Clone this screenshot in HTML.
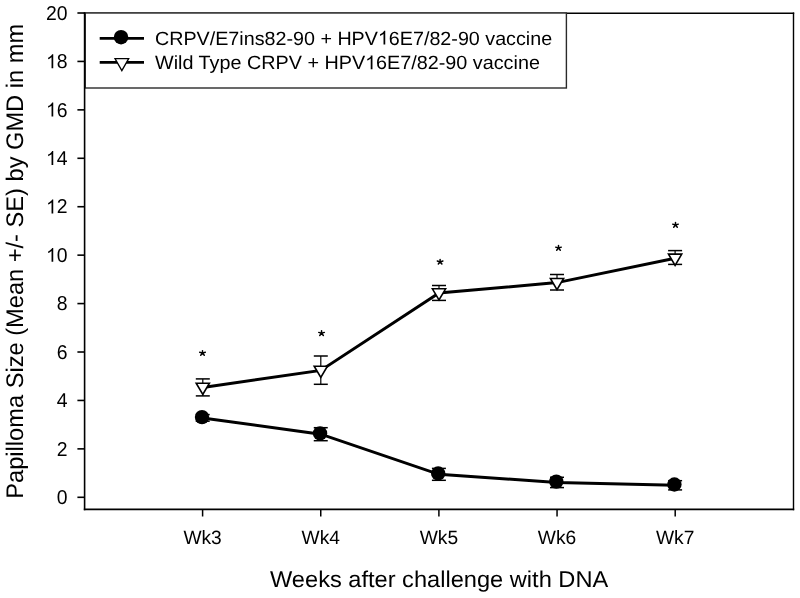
<!DOCTYPE html>
<html><head><meta charset="utf-8"><style>
html,body{margin:0;padding:0;background:#fff;width:800px;height:598px;overflow:hidden}
svg{display:block;will-change:transform}
text{font-family:"Liberation Sans", sans-serif;fill:#000;text-rendering:geometricPrecision}
</style></head><body>
<svg width="800" height="598" viewBox="0 0 800 598">
<line x1="83.8" y1="13.2" x2="794.2" y2="13.2" stroke="#000" stroke-width="1.4"/>
<line x1="793.5" y1="12.5" x2="793.5" y2="510.2" stroke="#000" stroke-width="1.4"/>
<line x1="83.8" y1="509.4" x2="794.2" y2="509.4" stroke="#000" stroke-width="1.6"/>
<rect x="85.2" y="13" width="481.2" height="75" fill="#fff" stroke="#2a2a2a" stroke-width="1.4"/>
<line x1="84.6" y1="12.3" x2="84.6" y2="510.2" stroke="#000" stroke-width="1.6"/>
<line x1="77.4" y1="497.30" x2="84.6" y2="497.30" stroke="#000" stroke-width="1.6"/>
<text transform="translate(67.6,504.00) scale(1,1.035)" text-anchor="end" font-size="19.4">0</text>
<line x1="77.4" y1="448.87" x2="84.6" y2="448.87" stroke="#000" stroke-width="1.6"/>
<text transform="translate(67.6,455.57) scale(1,1.035)" text-anchor="end" font-size="19.4">2</text>
<line x1="77.4" y1="400.44" x2="84.6" y2="400.44" stroke="#000" stroke-width="1.6"/>
<text transform="translate(67.6,407.14) scale(1,1.035)" text-anchor="end" font-size="19.4">4</text>
<line x1="77.4" y1="352.01" x2="84.6" y2="352.01" stroke="#000" stroke-width="1.6"/>
<text transform="translate(67.6,358.71) scale(1,1.035)" text-anchor="end" font-size="19.4">6</text>
<line x1="77.4" y1="303.58" x2="84.6" y2="303.58" stroke="#000" stroke-width="1.6"/>
<text transform="translate(67.6,310.28) scale(1,1.035)" text-anchor="end" font-size="19.4">8</text>
<line x1="77.4" y1="255.15" x2="84.6" y2="255.15" stroke="#000" stroke-width="1.6"/>
<path transform="translate(46.02,261.85) scale(0.00947,-0.00947)" d="M763,0H583V1147Q518,1085 412,1023Q306,961 223,930V1104Q374,1175 487,1276Q600,1377 647,1472H763Z"/>
<text transform="translate(67.6,261.85) scale(1,1.035)" text-anchor="end" font-size="19.4">0</text>
<line x1="77.4" y1="206.72" x2="84.6" y2="206.72" stroke="#000" stroke-width="1.6"/>
<path transform="translate(46.02,213.42) scale(0.00947,-0.00947)" d="M763,0H583V1147Q518,1085 412,1023Q306,961 223,930V1104Q374,1175 487,1276Q600,1377 647,1472H763Z"/>
<text transform="translate(67.6,213.42) scale(1,1.035)" text-anchor="end" font-size="19.4">2</text>
<line x1="77.4" y1="158.29" x2="84.6" y2="158.29" stroke="#000" stroke-width="1.6"/>
<path transform="translate(46.02,164.99) scale(0.00947,-0.00947)" d="M763,0H583V1147Q518,1085 412,1023Q306,961 223,930V1104Q374,1175 487,1276Q600,1377 647,1472H763Z"/>
<text transform="translate(67.6,164.99) scale(1,1.035)" text-anchor="end" font-size="19.4">4</text>
<line x1="77.4" y1="109.86" x2="84.6" y2="109.86" stroke="#000" stroke-width="1.6"/>
<path transform="translate(46.02,116.56) scale(0.00947,-0.00947)" d="M763,0H583V1147Q518,1085 412,1023Q306,961 223,930V1104Q374,1175 487,1276Q600,1377 647,1472H763Z"/>
<text transform="translate(67.6,116.56) scale(1,1.035)" text-anchor="end" font-size="19.4">6</text>
<line x1="77.4" y1="61.43" x2="84.6" y2="61.43" stroke="#000" stroke-width="1.6"/>
<path transform="translate(46.02,68.13) scale(0.00947,-0.00947)" d="M763,0H583V1147Q518,1085 412,1023Q306,961 223,930V1104Q374,1175 487,1276Q600,1377 647,1472H763Z"/>
<text transform="translate(67.6,68.13) scale(1,1.035)" text-anchor="end" font-size="19.4">8</text>
<line x1="77.4" y1="13.00" x2="84.6" y2="13.00" stroke="#000" stroke-width="1.6"/>
<text transform="translate(67.6,19.70) scale(1,1.035)" text-anchor="end" font-size="19.4">20</text>
<line x1="202.6" y1="509" x2="202.6" y2="516.5" stroke="#000" stroke-width="1.5"/>
<text x="183.40" y="543.8" font-size="19.2" textLength="38.4" lengthAdjust="spacingAndGlyphs">Wk3</text>
<line x1="320.75" y1="509" x2="320.75" y2="516.5" stroke="#000" stroke-width="1.5"/>
<text x="301.55" y="543.8" font-size="19.2" textLength="38.4" lengthAdjust="spacingAndGlyphs">Wk4</text>
<line x1="438.9" y1="509" x2="438.9" y2="516.5" stroke="#000" stroke-width="1.5"/>
<text x="419.70" y="543.8" font-size="19.2" textLength="38.4" lengthAdjust="spacingAndGlyphs">Wk5</text>
<line x1="557.05" y1="509" x2="557.05" y2="516.5" stroke="#000" stroke-width="1.5"/>
<text x="537.85" y="543.8" font-size="19.2" textLength="38.4" lengthAdjust="spacingAndGlyphs">Wk6</text>
<line x1="675.2" y1="509" x2="675.2" y2="516.5" stroke="#000" stroke-width="1.5"/>
<text x="656.00" y="543.8" font-size="19.2" textLength="38.4" lengthAdjust="spacingAndGlyphs">Wk7</text>
<text x="270" y="586.9" font-size="22.9" textLength="338.2" lengthAdjust="spacingAndGlyphs">Weeks after challenge with DNA</text>
<text transform="translate(22.9,498.7) rotate(-90)" x="0" y="0" font-size="24" textLength="474.8" lengthAdjust="spacingAndGlyphs">Papilloma Size (Mean +/- SE) by GMD in mm</text>
<polyline points="202.80,387.40 320.80,370.40 439.00,292.95 557.00,282.60 675.10,258.30" fill="none" stroke="#000" stroke-width="3"/>
<polyline points="202.70,417.90 320.75,434.20 438.90,474.30 557.00,482.40 675.10,485.30" fill="none" stroke="#000" stroke-width="3"/>
<line x1="202.80" y1="378.90" x2="202.80" y2="395.90" stroke="#000" stroke-width="1.2"/><line x1="195.80" y1="378.90" x2="209.80" y2="378.90" stroke="#000" stroke-width="1.5"/><line x1="195.80" y1="395.90" x2="209.80" y2="395.90" stroke="#000" stroke-width="1.5"/>
<line x1="320.80" y1="356.00" x2="320.80" y2="384.30" stroke="#000" stroke-width="1.2"/><line x1="313.80" y1="356.00" x2="327.80" y2="356.00" stroke="#000" stroke-width="1.5"/><line x1="313.80" y1="384.30" x2="327.80" y2="384.30" stroke="#000" stroke-width="1.5"/>
<line x1="439.00" y1="285.50" x2="439.00" y2="300.40" stroke="#000" stroke-width="1.2"/><line x1="432.00" y1="285.50" x2="446.00" y2="285.50" stroke="#000" stroke-width="1.5"/><line x1="432.00" y1="300.40" x2="446.00" y2="300.40" stroke="#000" stroke-width="1.5"/>
<line x1="557.00" y1="274.50" x2="557.00" y2="290.00" stroke="#000" stroke-width="1.2"/><line x1="550.00" y1="274.50" x2="564.00" y2="274.50" stroke="#000" stroke-width="1.5"/><line x1="550.00" y1="290.00" x2="564.00" y2="290.00" stroke="#000" stroke-width="1.5"/>
<line x1="675.10" y1="250.60" x2="675.10" y2="264.40" stroke="#000" stroke-width="1.2"/><line x1="668.10" y1="250.60" x2="682.10" y2="250.60" stroke="#000" stroke-width="1.5"/><line x1="668.10" y1="264.40" x2="682.10" y2="264.40" stroke="#000" stroke-width="1.5"/>
<line x1="202.70" y1="414.60" x2="202.70" y2="421.20" stroke="#000" stroke-width="1.2"/><line x1="195.70" y1="414.60" x2="209.70" y2="414.60" stroke="#000" stroke-width="1.5"/><line x1="195.70" y1="421.20" x2="209.70" y2="421.20" stroke="#000" stroke-width="1.5"/>
<line x1="320.75" y1="427.70" x2="320.75" y2="440.70" stroke="#000" stroke-width="1.2"/><line x1="313.75" y1="427.70" x2="327.75" y2="427.70" stroke="#000" stroke-width="1.5"/><line x1="313.75" y1="440.70" x2="327.75" y2="440.70" stroke="#000" stroke-width="1.5"/>
<line x1="438.90" y1="468.40" x2="438.90" y2="480.30" stroke="#000" stroke-width="1.2"/><line x1="431.90" y1="468.40" x2="445.90" y2="468.40" stroke="#000" stroke-width="1.5"/><line x1="431.90" y1="480.30" x2="445.90" y2="480.30" stroke="#000" stroke-width="1.5"/>
<line x1="557.00" y1="477.30" x2="557.00" y2="487.60" stroke="#000" stroke-width="1.2"/><line x1="550.00" y1="477.30" x2="564.00" y2="477.30" stroke="#000" stroke-width="1.5"/><line x1="550.00" y1="487.60" x2="564.00" y2="487.60" stroke="#000" stroke-width="1.5"/>
<line x1="675.10" y1="480.70" x2="675.10" y2="489.90" stroke="#000" stroke-width="1.2"/><line x1="668.10" y1="480.70" x2="682.10" y2="480.70" stroke="#000" stroke-width="1.5"/><line x1="668.10" y1="489.90" x2="682.10" y2="489.90" stroke="#000" stroke-width="1.5"/>
<polygon points="196.20,383.27 209.40,383.27 202.80,394.47" fill="#fff" stroke="#000" stroke-width="1.6" stroke-linejoin="miter"/>
<polygon points="314.20,366.27 327.40,366.27 320.80,377.47" fill="#fff" stroke="#000" stroke-width="1.6" stroke-linejoin="miter"/>
<polygon points="432.40,288.82 445.60,288.82 439.00,300.02" fill="#fff" stroke="#000" stroke-width="1.6" stroke-linejoin="miter"/>
<polygon points="550.40,278.47 563.60,278.47 557.00,289.67" fill="#fff" stroke="#000" stroke-width="1.6" stroke-linejoin="miter"/>
<polygon points="668.50,254.17 681.70,254.17 675.10,265.37" fill="#fff" stroke="#000" stroke-width="1.6" stroke-linejoin="miter"/>
<circle cx="202.00" cy="417.10" r="7.2" fill="#000"/>
<circle cx="320.05" cy="433.40" r="7.2" fill="#000"/>
<circle cx="438.20" cy="473.50" r="7.2" fill="#000"/>
<circle cx="556.30" cy="481.60" r="7.2" fill="#000"/>
<circle cx="674.40" cy="484.50" r="7.2" fill="#000"/>
<path d="M202.50,353.15l0,-2.5M202.50,353.15l2.8,-0.9M202.50,353.15l-2.8,-0.9M202.50,353.15l1.8,2.1M202.50,353.15l-1.8,2.1" stroke="#000" stroke-width="1.5" stroke-linecap="round" fill="none"/>
<path d="M321.55,333.30l0,-2.5M321.55,333.30l2.8,-0.9M321.55,333.30l-2.8,-0.9M321.55,333.30l1.8,2.1M321.55,333.30l-1.8,2.1" stroke="#000" stroke-width="1.5" stroke-linecap="round" fill="none"/>
<path d="M440.10,261.95l0,-2.5M440.10,261.95l2.8,-0.9M440.10,261.95l-2.8,-0.9M440.10,261.95l1.8,2.1M440.10,261.95l-1.8,2.1" stroke="#000" stroke-width="1.5" stroke-linecap="round" fill="none"/>
<path d="M558.50,248.05l0,-2.5M558.50,248.05l2.8,-0.9M558.50,248.05l-2.8,-0.9M558.50,248.05l1.8,2.1M558.50,248.05l-1.8,2.1" stroke="#000" stroke-width="1.5" stroke-linecap="round" fill="none"/>
<path d="M675.50,225.05l0,-2.5M675.50,225.05l2.8,-0.9M675.50,225.05l-2.8,-0.9M675.50,225.05l1.8,2.1M675.50,225.05l-1.8,2.1" stroke="#000" stroke-width="1.5" stroke-linecap="round" fill="none"/>
<line x1="99.7" y1="38.3" x2="144" y2="38.3" stroke="#000" stroke-width="2.8"/>
<circle cx="121.05" cy="37.15" r="7.25" fill="#000"/>
<line x1="99.7" y1="62.4" x2="144" y2="62.4" stroke="#000" stroke-width="2.6"/>
<polygon points="115.00,58.65 128.70,58.65 121.85,70.65" fill="#fff" stroke="#000" stroke-width="1.3" stroke-linejoin="miter"/>
<text id="L1" x="155" y="44.6" font-size="19.1" textLength="397.1" lengthAdjust="spacingAndGlyphs">CRPV/E7ins82-90 + HPV16E7/82-90 vaccine</text>
<text id="L2" x="155" y="69.3" font-size="19.1" textLength="384.9" lengthAdjust="spacingAndGlyphs">Wild Type CRPV + HPV16E7/82-90 vaccine</text>
<rect x="378.67" y="30.86" width="9.72" height="14.94" fill="#fff"/>
<path transform="translate(377.90,44.60) scale(0.00963,-0.00933)" d="M763,0H583V1147Q518,1085 412,1023Q306,961 223,930V1104Q374,1175 487,1276Q600,1377 647,1472H763Z"/>
<rect x="365.85" y="55.56" width="9.77" height="14.94" fill="#fff"/>
<path transform="translate(365.08,69.30) scale(0.00968,-0.00933)" d="M763,0H583V1147Q518,1085 412,1023Q306,961 223,930V1104Q374,1175 487,1276Q600,1377 647,1472H763Z"/>
</svg>
</body></html>
